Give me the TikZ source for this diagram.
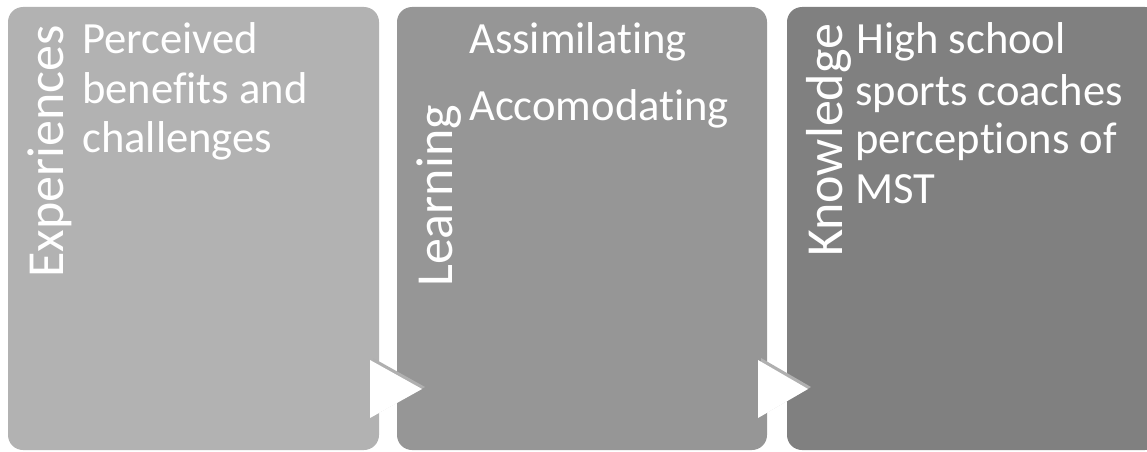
\documentclass[tikz,border=0pt]{standalone}
\usepackage{fontspec}
\setmainfont{Carlito}[Ligatures={NoCommon}]
\definecolor{boxa}{RGB}{178,178,178}
\definecolor{boxb}{RGB}{150,150,150}
\definecolor{boxc}{RGB}{128,128,128}
\definecolor{shade}{RGB}{176,176,176}
\tikzset{
  panel/.style={fill=#1, draw=none, rounded corners=15pt},
  vlabel/.style={rotate=90, anchor=base west, inner sep=0pt, text=white, font=\fontsize{52}{60}\selectfont},
  body/.style={anchor=base west, inner sep=0pt, text=white, font=\fontsize{44.6}{50}\selectfont},
  tri/.style={fill=white, draw=none},
  trishade/.style={fill=shade, draw=none}
}
\begin{document}
\begin{tikzpicture}[x=1pt,y=1pt]
\useasboundingbox (0,0) rectangle (1147,451);
\clip (0,0) rectangle (1147,451);
% panels
\path[panel=boxa] (8,1) rectangle (379,444);
\path[panel=boxb] (397,1) rectangle (767,444);
\path[panel=boxc] (787,1) rectangle (1160,444);
% arrows
\path[trishade] (373,93) -- (373,35) -- (425,64) -- cycle;
\path[tri] (370,91) -- (370,33) -- (422,62) -- cycle;
\path[trishade] (761,93) -- (761,35) -- (811,64) -- cycle;
\path[tri] (758,91) -- (758,33) -- (808,62) -- cycle;
% vertical labels
\node[vlabel] (exp) at (63,173) {Experiences};
\node[vlabel] (lea) at (452,164) {Learning};
\node[vlabel] (kno) at (842,194) {Knowledge};
% body texts
\node[body] (a1) at (82,398) {Perceived};
\node[body] (a2) at (82,348) {benefits and};
\node[body] (a3) at (82,299) {challenges};
\node[body] (b1) at (469,398) {Assimilating};
\node[body] (b2) at (469,331) {Accomodating};
\node[body] (c1) at (856,398) {High school};
\node[body] (c2) at (855,346) {sports coaches};
\node[body] (c3) at (855,298) {perceptions of};
\node[body] (c4) at (855,248) {MST};
\end{tikzpicture}
\end{document}
